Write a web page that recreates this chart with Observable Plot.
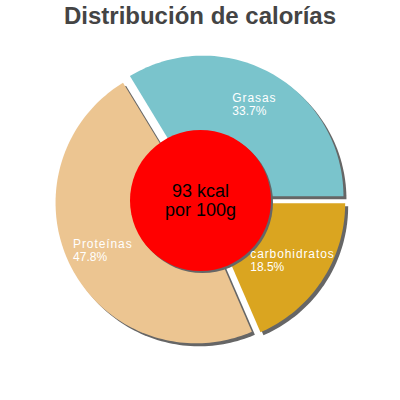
<!DOCTYPE html>
<html><head><meta charset="utf-8">
<script src="https://cdn.jsdelivr.net/npm/d3@7"></script>
<script src="https://cdn.jsdelivr.net/npm/@observablehq/plot@0.6"></script>
<style>
body{margin:0;background:#fff;font-family:"Liberation Sans",Arial,sans-serif;}
#title{height:32px;line-height:32px;text-align:center;font-size:24px;font-weight:bold;color:#444;}
</style></head><body>
<div id="title">Distribución de calorías</div>
<div id="chart"></div>
<script>
const categories = ["carbohidratos", "Proteínas", "Grasas"];
const percents = [18.5, 47.8, 33.7];
const centerLines = ["93 kcal", "por 100g"];
const sliceColors = ["#DAA520", "#ECC591", "#7AC4CC"];

const R = 140.5, explode = 5, labelR = 110, steps = 240, nameSpacing = 0.9;
const ctx = document.createElement("canvas").getContext("2d");
ctx.font = "12px 'Liberation Sans', Arial, sans-serif";
const measure = (s, sp) => ctx.measureText(s).width + sp * s.length;

let acc = 0;
const slices = categories.map((c, i) => {
  const a0 = acc / 100 * 2 * Math.PI; acc += percents[i];
  const a1 = acc / 100 * 2 * Math.PI; const mid = (a0 + a1) / 2;
  return {cat: c, pct: percents[i], a0, a1, mid, ox: explode * Math.cos(mid), oy: explode * Math.sin(mid)};
});
const pts = slices.flatMap(s => {
  const n = Math.max(2, Math.ceil((s.a1 - s.a0) / (2 * Math.PI) * steps));
  const arr = [{cat: s.cat, x: s.ox, y: s.oy}];
  for (let k = 0; k <= n; k++) {
    const a = s.a0 + (s.a1 - s.a0) * k / n;
    arr.push({cat: s.cat, x: s.ox + R * Math.cos(a), y: s.oy + R * Math.sin(a)});
  }
  return arr;
});
const labels = slices.map(s => {
  const pctText = s.pct.toFixed(1) + "%";
  const w = Math.max(measure(s.cat, nameSpacing), measure(pctText, 0));
  return {cat: s.cat, pctText, x: labelR * Math.cos(s.mid) - w / 2, y: labelR * Math.sin(s.mid)};
});
const center = [{x: 0, y: 0, text: centerLines.join("\n")}];

const plot = Plot.plot({
  width: 400, height: 368, margin: 0,
  x: {domain: [-200, 200], axis: null},
  y: {domain: [200, -168], axis: null},
  color: {domain: categories, range: sliceColors},
  style: {fontFamily: "Liberation Sans, Arial, sans-serif", background: "transparent"},
  marks: [
    Plot.line(pts, {x: "x", y: "y", z: "cat", fill: "#666", stroke: "none", dx: 3, dy: 3, curve: "linear-closed"}),
    Plot.line(pts, {x: "x", y: "y", z: "cat", fill: "cat", stroke: "none", curve: "linear-closed"}),
    Plot.dot(center, {x: "x", y: "y", r: 70.5, fill: "#666", stroke: "none", dx: 2, dy: 2}),
    Plot.dot(center, {x: "x", y: "y", r: 70.5, fill: "red", stroke: "none"}),
    Plot.text(center, {x: "x", y: "y", text: "text", fontSize: 18, lineHeight: 1.06, fill: "black"}),
    Plot.text(labels, {x: "x", y: "y", text: "cat", fontSize: 12, dy: -6.5, textAnchor: "start", fill: "white"}),
    Plot.text(labels, {x: "x", y: "y", text: "pctText", fontSize: 12, dy: 6.5, textAnchor: "start", fill: "white"})
  ]
});
document.getElementById("chart").append(plot);
const textGroups = plot.querySelectorAll('g[aria-label="text"]');
if (textGroups[1]) textGroups[1].style.letterSpacing = nameSpacing + "px";
</script>
</body></html>
